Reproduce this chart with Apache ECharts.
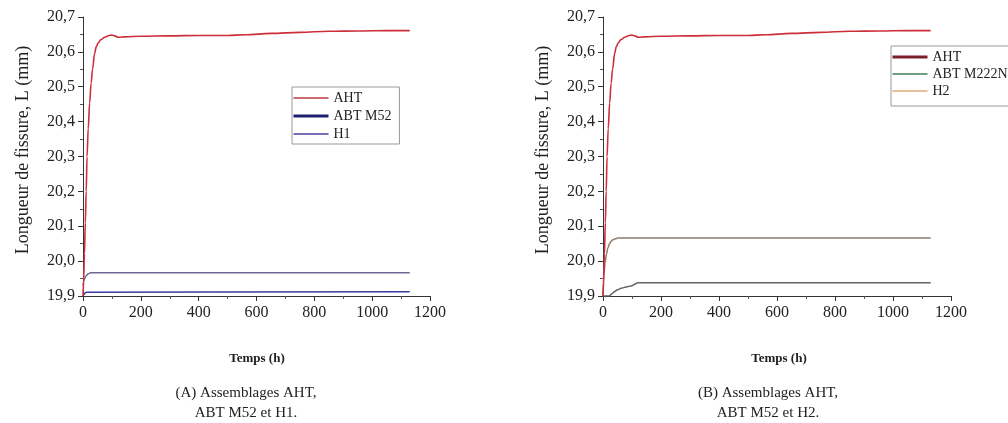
<!DOCTYPE html>
<html>
<head>
<meta charset="utf-8">
<script src="https://cdn.jsdelivr.net/npm/echarts@6/dist/echarts.min.js"></script>
<style>
html,body{margin:0;padding:0;background:#fff;}
#c{width:1008px;height:423px;}
</style>
</head>
<body>
<div id="c"></div>
<script>
// ---- data ----
const xTicks = [0, 200, 400, 600, 800, 1000, 1200];
const yTicks = [19.9, 20.0, 20.1, 20.2, 20.3, 20.4, 20.5, 20.6, 20.7];

// AHT (same curve in both panels)
const timesAHT  = [0, 2, 5, 8, 11, 14, 18, 23, 28, 33, 40, 46, 52, 62, 75, 90, 100, 110, 121, 145, 200, 300, 400, 500, 560, 650, 750, 850, 950, 1050, 1130];
const valuesAHT = [19.90, 19.94, 20.02, 20.11, 20.20, 20.30, 20.38, 20.453, 20.51, 20.55, 20.595, 20.615, 20.625, 20.635, 20.642, 20.647, 20.648, 20.646, 20.642, 20.643, 20.645, 20.646, 20.647, 20.647, 20.649, 20.653, 20.656, 20.659, 20.66, 20.661, 20.661];

// Panel A
const timesM52  = [0, 4, 8, 12, 1130];
const valuesM52 = [19.900, 19.905, 19.909, 19.911, 19.912];
const timesH1   = [0, 3, 6, 10, 17, 24, 30, 1130];
const valuesH1  = [19.930, 19.943, 19.951, 19.957, 19.963, 19.966, 19.967, 19.967];

// Panel B
const timesM222N  = [0, 22, 30, 39, 50, 62, 80, 97, 110, 120, 1130];
const valuesM222N = [19.900, 19.900, 19.906, 19.912, 19.918, 19.922, 19.926, 19.929, 19.934, 19.938, 19.938];
const timesH2   = [0, 3, 7, 12, 17, 22, 28, 34, 42, 51, 1130];
const valuesH2  = [19.90, 19.96, 19.995, 20.02, 20.038, 20.049, 20.057, 20.061, 20.064, 20.066, 20.066];

const namesA = ['AHT', 'ABT M52', 'H1'];
const namesB = ['AHT', 'ABT M222N', 'H2'];
const yTitle = 'Longueur de fissure, L (mm)';
const xTitle = 'Temps (h)';
const captionA = ['(A) Assemblages AHT,', 'ABT M52 et H1.'];
const captionB = ['(B) Assemblages AHT,', 'ABT M52 et H2.'];

// ---- build ----
const pairs = (t, v) => t.map((x, i) => [x, v[i]]);
const SERIF = '"Liberation Serif", "DejaVu Serif", serif';

function xAxisCfg(gi) {
  return {
    type: 'value', gridIndex: gi, min: xTicks[0], max: xTicks[xTicks.length - 1],
    interval: xTicks[1] - xTicks[0],
    axisLine: { show: true, lineStyle: { color: '#333', width: 1 } },
    axisTick: { show: true, length: 5, lineStyle: { color: '#333' } },
    minorTick: { show: true, splitNumber: 2, length: 3, lineStyle: { color: '#555' } },
    splitLine: { show: false },
    axisLabel: { fontFamily: SERIF, fontSize: 16, color: '#222', margin: 9,
      formatter: v => String(v) }
  };
}
function yAxisCfg(gi) {
  return {
    type: 'value', gridIndex: gi, min: yTicks[0], max: yTicks[yTicks.length - 1],
    interval: 0.1,
    axisLine: { show: true, lineStyle: { color: '#333', width: 1 } },
    axisTick: { show: true, length: 5, lineStyle: { color: '#333' } },
    minorTick: { show: true, splitNumber: 2, length: 3, lineStyle: { color: '#555' } },
    splitLine: { show: false },
    axisLabel: { fontFamily: SERIF, fontSize: 16, color: '#222', margin: 8,
      formatter: v => v.toFixed(1).replace('.', ',') }
  };
}
function line(name, gi, t, v, color, w) {
  return {
    type: 'line', name, xAxisIndex: gi, yAxisIndex: gi,
    data: pairs(t, v), symbol: 'none', smooth: 0.35, smoothMonotone: 'x',
    lineStyle: { color, width: w }, itemStyle: { color }, z: 3
  };
}
function legendCfg(names, cols, widths, left, top, gap, padding) {
  return {
    orient: 'vertical', left, top,
    data: names.map((n, i) => ({ name: n,
      lineStyle: { color: cols[i], width: widths[i] },
      itemStyle: { color: 'rgba(0,0,0,0)', borderWidth: 0, opacity: 0 } })),
    itemWidth: 35, itemHeight: 8, itemGap: gap,
    padding,
    backgroundColor: '#fff', borderColor: '#9a9a9a', borderWidth: 1,
    textStyle: { fontFamily: SERIF, fontSize: 14, color: '#222', lineHeight: 14 },
    selectedMode: false
  };
}

const chart = echarts.init(document.getElementById('c'), null, { renderer: 'canvas' });

const textCommon = { fontFamily: SERIF, fill: '#222' };
const option = {
  animation: false,
  backgroundColor: '#fff',
  grid: [
    { left: 83, top: 17, width: 347, height: 279 },
    { left: 603, top: 17, width: 348, height: 279 }
  ],
  xAxis: [xAxisCfg(0), xAxisCfg(1)],
  yAxis: [yAxisCfg(0), yAxisCfg(1)],
  legend: [
    legendCfg(namesA, ['#b83a3e', '#1e1e6e', '#4b3e9e'], [1.5, 3, 1.5], 292, 87, 4, [4, 8, 3, 0]),
    legendCfg(namesB, ['#7a1e2a', '#3f7d52', '#e2a878'], [3, 1.5, 1.5], 891, 46, 3, [4, 40, 8, 0])
  ],
  series: [
    line('ABT M52', 0, timesM52, valuesM52, '#3c3ca0', 1.5),
    line('H1', 0, timesH1, valuesH1, '#6c6a92', 1.5),
    line('AHT', 0, timesAHT, valuesAHT, '#cc2e3a', 1.6),
    line('ABT M222N', 1, timesM222N, valuesM222N, '#5e665f', 1.5),
    line('H2', 1, timesH2, valuesH2, '#8f7c70', 1.5),
    line('AHT', 1, timesAHT, valuesAHT, '#cc2e3a', 1.6)
  ],
  graphic: [
    { type: 'text', x: 23, y: 150, rotation: Math.PI / 2,
      style: Object.assign({ text: yTitle, fontSize: 18, align: 'center', verticalAlign: 'middle' }, textCommon) },
    { type: 'text', x: 543, y: 150, rotation: Math.PI / 2,
      style: Object.assign({ text: yTitle, fontSize: 18, align: 'center', verticalAlign: 'middle' }, textCommon) },
    { type: 'text', x: 257, y: 359,
      style: Object.assign({ text: xTitle, fontSize: 13, fontWeight: 'bold', align: 'center', verticalAlign: 'middle' }, textCommon) },
    { type: 'text', x: 779, y: 359,
      style: Object.assign({ text: xTitle, fontSize: 13, fontWeight: 'bold', align: 'center', verticalAlign: 'middle' }, textCommon) },
    { type: 'text', x: 246, y: 393,
      style: Object.assign({ text: captionA[0], fontSize: 15, align: 'center', verticalAlign: 'middle' }, textCommon) },
    { type: 'text', x: 246, y: 413,
      style: Object.assign({ text: captionA[1], fontSize: 15, align: 'center', verticalAlign: 'middle' }, textCommon) },
    { type: 'text', x: 768, y: 393,
      style: Object.assign({ text: captionB[0], fontSize: 15, align: 'center', verticalAlign: 'middle' }, textCommon) },
    { type: 'text', x: 768, y: 413,
      style: Object.assign({ text: captionB[1], fontSize: 15, align: 'center', verticalAlign: 'middle' }, textCommon) }
  ]
};
chart.setOption(option);
</script>
</body>
</html>
